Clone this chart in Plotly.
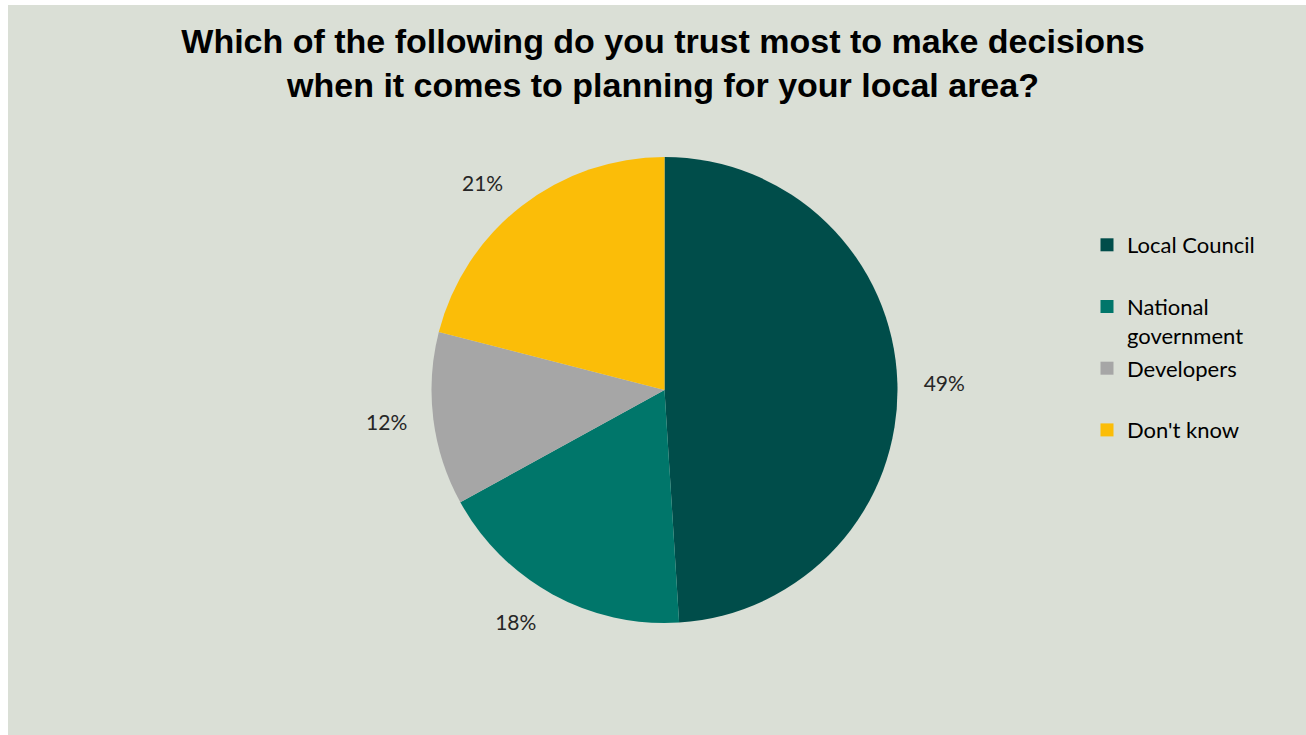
import plotly.graph_objects as go

categories = ["Local Council", "National government", "Developers", "Don't know"]
legend_labels = ["Local Council<br> ", "National<br>government", "Developers<br> ", "Don't know<br> "]
values = [49, 18, 12, 21]
colors = ["#004d4a", "#00766a", "#a6a6a6", "#fbbd08"]

W, H = 1298, 730
BG = "#dadfd6"

# pie geometry (pixels, figure coords)
CX, CY, R = 656.5, 385.0, 233.0
R_LABEL = R + 20.0


def dom(r):
    return dict(x=[(CX - r) / W, (CX + r) / W],
                y=[(H - (CY + r)) / H, (H - (CY - r)) / H])


fig = go.Figure()
# visible pie
fig.add_trace(go.Pie(
    labels=categories,
    values=values,
    sort=False,
    direction="clockwise",
    rotation=0,
    marker=dict(colors=colors, line=dict(width=0)),
    textinfo="none",
    showlegend=False,
    hoverinfo="label+percent",
    domain=dom(R),
))
# transparent, slightly larger pie carrying the outside percentage labels
fig.add_trace(go.Pie(
    labels=categories,
    values=values,
    sort=False,
    direction="clockwise",
    rotation=0,
    marker=dict(colors=["rgba(0,0,0,0)"] * len(values), line=dict(width=0)),
    texttemplate="%{percent:.0%}",
    textposition="outside",
    textfont=dict(family="Lato", size=21, color="#262626"),
    showlegend=False,
    hoverinfo="skip",
    domain=dom(R_LABEL),
))

for lab, col, cat in zip(legend_labels, colors, categories):
    fig.add_trace(go.Scatter(
        x=[None], y=[None], mode="markers", name=lab,
        legendgroup=cat,
        marker=dict(symbol="square", size=13, color=col),
    ))

fig.update_layout(
    width=W, height=H,
    margin=dict(l=0, r=0, t=0, b=0),
    paper_bgcolor=BG,
    plot_bgcolor=BG,
    xaxis=dict(visible=False),
    yaxis=dict(visible=False),
    title=dict(
        text="Which of the following do you trust most to make decisions<br>when it comes to planning for your local area?",
        x=655 / W, xanchor="center", y=1 - 47.5 / H, yanchor="middle",
        font=dict(family="Liberation Sans", size=34, color="#000000", weight="bold"),
    ),
    legend=dict(
        x=1079 / W, xanchor="left", y=1 - 219 / H, yanchor="top",
        font=dict(family="Lato", size=22, color="#000000"),
        traceorder="grouped", tracegroupgap=1.5, valign="top",
        bgcolor="rgba(0,0,0,0)",
    ),
)

fig.write_html(
    "out.html",
    post_script="document.body.style.margin='5px 0 0 8px';document.body.style.overflow='hidden';",
)
